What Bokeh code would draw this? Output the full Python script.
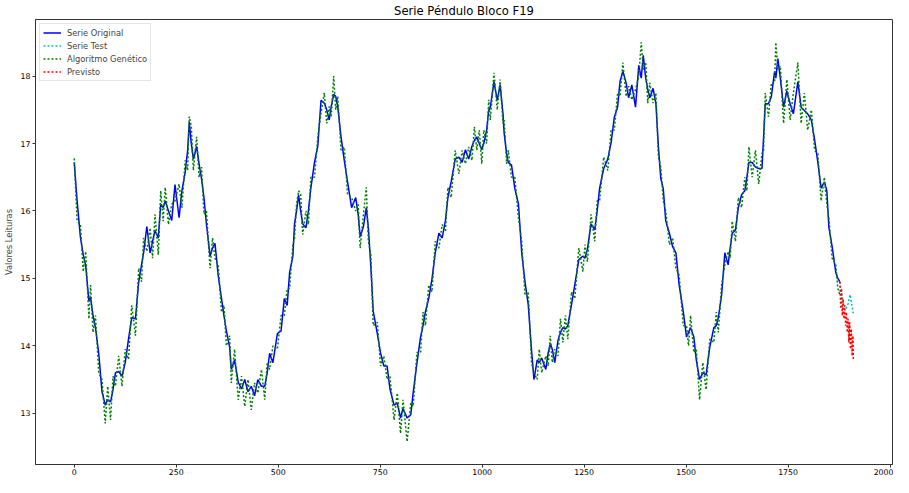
from bokeh.plotting import figure
from bokeh.models import Range1d, FixedTicker, Legend, LegendItem
from bokeh.embed import file_html
from bokeh.resources import INLINE

# ---- data ----
orig_x = [0, 7, 15, 22, 28, 36, 40, 46, 52, 60, 68, 76, 82, 89, 95, 101, 109, 117, 125, 133,
          141, 150, 158, 165, 170, 178, 186, 192, 198, 206, 212, 218, 223, 231, 239, 247, 257, 264, 272, 278,
          282, 287, 292, 300, 306, 312, 318, 324, 333, 339, 345, 353, 361, 367, 373, 381, 385, 393, 402, 410,
          418, 426, 434, 442, 450, 459, 467, 473, 479, 487, 498, 507, 515, 522, 528, 536, 540, 545, 550, 555,
          560, 568, 574, 580, 589, 597, 605, 613, 619, 625, 630, 636, 641, 646, 654, 662, 670, 680, 690, 696,
          701, 709, 716, 721, 727, 733, 743, 751, 759, 767, 774, 784, 792, 800, 806, 816, 825, 831, 840, 849,
          855, 861, 869, 877, 885, 894, 902, 910, 916, 924, 934, 943, 951, 959, 967, 975, 981, 987, 993, 999,
          1004, 1011, 1016, 1020, 1029, 1037, 1044, 1051, 1054, 1060, 1064, 1072, 1080, 1089, 1097, 1105, 1113, 1121, 1127, 1135,
          1140, 1146, 1156, 1162, 1167, 1172, 1178, 1186, 1192, 1198, 1204, 1210, 1219, 1227, 1237, 1247, 1252, 1258, 1267, 1276,
          1282, 1288, 1298, 1308, 1316, 1324, 1332, 1338, 1345, 1353, 1359, 1367, 1376, 1384, 1390, 1395, 1401, 1406, 1411, 1419,
          1426, 1432, 1438, 1444, 1450, 1459, 1467, 1475, 1483, 1493, 1501, 1506, 1511, 1519, 1525, 1533, 1541, 1549, 1558, 1568,
          1574, 1579, 1587, 1595, 1603, 1608, 1613, 1621, 1628, 1636, 1644, 1649, 1654, 1662, 1670, 1678, 1686, 1690, 1694, 1702,
          1709, 1717, 1720, 1725, 1731, 1739, 1747, 1755, 1763, 1774, 1782, 1790, 1798, 1807, 1815, 1823, 1831, 1839, 1845, 1850,
          1858, 1867, 1872, 1877]

orig_y = [16.72, 16.15, 15.62, 15.35, 15.19, 14.66, 14.72, 14.45, 14.27, 13.89, 13.32, 13.12, 13.2, 13.17, 13.35, 13.6, 13.62, 13.55, 13.75, 14.1,
          14.42, 14.4, 14.95, 15.2, 15.38, 15.77, 15.38, 15.55, 15.71, 15.6, 16.1, 16.05, 16.15, 16.0, 15.86, 16.39, 15.9, 16.3, 16.58, 16.9,
          17.32, 17.0, 16.77, 16.96, 16.7, 16.48, 16.2, 15.81, 15.33, 15.45, 15.52, 15.04, 14.7, 14.45, 14.22, 13.98, 13.65, 13.79, 13.46, 13.36,
          13.5, 13.32, 13.4, 13.26, 13.5, 13.4, 13.4, 13.6, 13.89, 13.75, 14.18, 14.22, 14.7, 14.6, 15.09, 15.33, 15.81, 16.0, 16.24, 16.0,
          15.81, 15.75, 16.0, 16.34, 16.72, 16.96, 17.64, 17.6, 17.5, 17.35, 17.55, 17.73, 17.7, 17.55, 17.1, 16.75, 16.43, 16.05, 16.2, 15.95,
          15.62, 15.77, 16.05, 15.75, 15.19, 14.51, 14.18, 13.89, 13.7, 13.7, 13.36, 13.12, 13.15, 12.93, 13.07, 12.93, 12.98, 13.31, 13.74, 14.13,
          14.3, 14.51, 14.7, 14.99, 15.38, 15.67, 15.6, 15.86, 16.2, 16.43, 16.77, 16.8, 16.72, 16.91, 16.77, 16.96, 17.05, 17.1, 17.0, 16.91,
          17.0, 17.2, 17.49, 17.54, 17.92, 17.64, 17.87, 17.45, 17.15, 16.85, 16.72, 16.68, 16.34, 16.1, 15.38, 14.95, 14.61, 13.94, 13.5, 13.79,
          13.75, 13.82, 13.65, 13.9, 14.03, 13.95, 13.75, 14.08, 14.2, 14.27, 14.25, 14.3, 14.61, 14.9, 15.28, 15.33, 15.3, 15.43, 15.81, 15.72,
          16.0, 16.34, 16.63, 16.77, 17.01, 17.39, 17.54, 17.92, 18.07, 17.9, 17.68, 17.87, 17.54, 18.16, 17.97, 18.31, 17.97, 17.8, 17.68, 17.82,
          17.59, 16.96, 16.48, 16.33, 15.86, 15.67, 15.47, 15.38, 14.9, 14.51, 14.13, 14.2, 14.27, 14.13, 13.79, 13.5, 13.6, 13.57, 13.98, 14.27,
          14.3, 14.42, 14.75, 15.38, 15.2, 15.45, 15.67, 15.72, 16.05, 16.24, 16.3, 16.5, 16.72, 16.72, 16.65, 16.63, 16.63, 17.1, 17.59, 17.59,
          17.7, 18.07, 17.97, 18.26, 17.97, 17.54, 17.78, 17.59, 17.44, 17.92, 17.54, 17.49, 17.44, 17.35, 17.06, 16.72, 16.34, 16.43, 16.3, 15.76,
          15.47, 15.09, 15.0, 14.95]

ga_y = [16.78, 15.85, 15.8, 15.1, 15.4, 14.4, 14.9, 14.2, 14.45, 13.6, 13.5, 12.85, 13.4, 12.9, 13.55, 13.4, 13.85, 13.4, 13.95, 13.8,
        14.6, 14.15, 15.15, 14.95, 15.6, 15.4, 15.75, 15.3, 15.95, 15.35, 16.3, 15.85, 16.35, 15.8, 16.1, 16.15, 16.4, 16.05, 16.75, 16.6,
        17.4, 17.25, 16.6, 17.1, 16.5, 16.65, 15.95, 16.0, 15.15, 15.6, 15.3, 15.2, 14.5, 14.6, 14.0, 14.15, 13.45, 13.95, 13.2, 13.55,
        13.1, 13.5, 13.05, 13.45, 13.3, 13.65, 13.2, 13.75, 13.65, 14.0, 13.95, 14.45, 14.45, 14.85, 14.85, 15.5, 15.6, 16.1, 16.3, 16.25,
        15.65, 16.0, 15.8, 16.5, 16.5, 17.1, 17.45, 17.75, 17.3, 17.55, 17.4, 18.0, 17.5, 17.7, 16.9, 16.95, 16.25, 16.2, 16.0, 16.1,
        15.45, 15.95, 16.35, 15.55, 15.35, 14.3, 14.35, 13.7, 13.85, 13.5, 13.55, 12.9, 13.3, 12.7, 13.2, 12.58, 13.15, 13.1, 13.9, 13.9,
        14.5, 14.3, 14.9, 14.8, 15.55, 15.45, 15.8, 15.7, 16.35, 16.2, 16.9, 16.55, 16.9, 16.7, 16.95, 16.75, 17.25, 16.9, 17.2, 16.7,
        17.2, 17.0, 17.65, 17.35, 18.05, 17.5, 17.95, 17.3, 17.35, 16.7, 16.9, 16.5, 16.5, 15.9, 15.55, 14.75, 14.8, 13.75, 13.6, 13.5,
        13.95, 13.6, 13.85, 13.7, 14.15, 13.75, 13.95, 13.85, 14.4, 14.05, 14.45, 14.1, 14.8, 14.7, 15.45, 15.1, 15.5, 15.25, 15.95, 15.55,
        16.15, 16.15, 16.8, 16.6, 17.2, 17.2, 17.75, 17.7, 18.2, 17.7, 17.85, 17.65, 17.8, 18.0, 18.5, 18.1, 18.2, 17.6, 17.9, 17.6,
        17.75, 16.8, 16.65, 16.15, 16.0, 15.5, 15.6, 15.15, 15.05, 14.3, 14.3, 14.0, 14.45, 13.9, 13.95, 13.2, 13.75, 13.35, 14.1, 14.05,
        14.5, 14.2, 14.9, 15.2, 15.4, 15.3, 15.85, 15.55, 16.2, 16.05, 16.5, 16.3, 16.95, 16.5, 16.9, 16.4, 16.85, 16.9, 17.75, 17.4,
        17.9, 17.9, 18.5, 18.1, 18.15, 17.3, 17.95, 17.35, 17.75, 18.2, 17.3, 17.75, 17.2, 17.5, 16.9, 16.85, 16.15, 16.5, 16.1, 15.9,
        15.3, 15.2, 14.85, 14.75]

test_x = [1877, 1882, 1887, 1892, 1897, 1902, 1906, 1910]
test_y = [14.95, 14.75, 14.6, 14.55, 14.62, 14.76, 14.62, 14.48]

prev_x = [1877, 1879, 1881, 1883, 1885, 1887, 1889, 1891, 1893, 1895, 1897, 1899, 1901, 1903, 1905, 1907, 1909, 1910]
prev_y = [14.95, 14.55, 14.85, 14.45, 14.7, 14.4, 14.6, 14.3, 14.5, 14.2, 14.4, 14.05, 14.35, 13.95, 14.25, 13.85, 14.15, 13.8]

x_ticks = [0, 250, 500, 750, 1000, 1250, 1500, 1750, 2000]
y_ticks = [13, 14, 15, 16, 17, 18]

FONT = "DejaVu Sans"

p = figure(width=893, height=477, output_backend="svg", toolbar_location=None,
           x_range=Range1d(-95, 2006), y_range=Range1d(12.24, 18.84),
           title="Serie Péndulo Bloco F19",
           min_border_left=31, min_border_right=1, min_border_top=0, min_border_bottom=0)

p.title.align = "center"
p.title.text_font = FONT
p.title.text_font_size = "11.6px"
p.title.text_font_style = "normal"
p.title.text_color = "#000000"
p.title.standoff = 3
p.title.offset = 0

p.xgrid.visible = False
p.ygrid.visible = False
p.outline_line_color = "#333333"
p.outline_line_width = 1

for ax in (p.xaxis[0], p.yaxis[0]):
    ax.major_label_text_font = FONT
    ax.major_label_text_font_size = "7.8px"
    ax.major_label_text_color = "#000000"
    ax.axis_line_color = "#333333"
    ax.major_tick_line_color = "#333333"
    ax.major_tick_in = 0
    ax.major_tick_out = 3
    ax.minor_tick_line_color = None
    ax.major_label_standoff = 2

p.xaxis.major_label_standoff = 1
p.xaxis.ticker = FixedTicker(ticks=x_ticks)
p.yaxis.ticker = FixedTicker(ticks=y_ticks)
p.yaxis.axis_label = "Valores Leituras"
p.yaxis.axis_label_text_font = FONT
p.yaxis.axis_label_text_font_size = "8.3px"
p.yaxis.axis_label_text_font_style = "normal"
p.yaxis.axis_label_standoff = 4

r1 = p.line(orig_x, orig_y, line_color="#0000ff", line_width=1.5)
r2 = p.line(test_x, test_y, line_color="#00bfbf", line_width=1.5, line_dash="2 2")
r3 = p.line(orig_x, ga_y, line_color="#008000", line_width=1.5, line_dash="2 2")
r4 = p.line(prev_x, prev_y, line_color="#ff0000", line_width=1.5, line_dash="2 2")

legend = Legend(items=[
    LegendItem(label="Serie Original", renderers=[r1]),
    LegendItem(label="Serie Test", renderers=[r2]),
    LegendItem(label="Algoritmo Genético", renderers=[r3]),
    LegendItem(label="Previsto", renderers=[r4]),
], location="top_left")
legend.label_text_font = FONT
legend.label_text_font_size = "8.3px"
legend.label_height = 11
legend.glyph_height = 11
legend.glyph_width = 18
legend.spacing = 2
legend.padding = 3
legend.margin = 4
legend.label_standoff = 6
legend.border_line_color = "#cccccc"
legend.background_fill_alpha = 0.8
p.add_layout(legend)

open("out.html", "w").write(file_html(p, INLINE))
